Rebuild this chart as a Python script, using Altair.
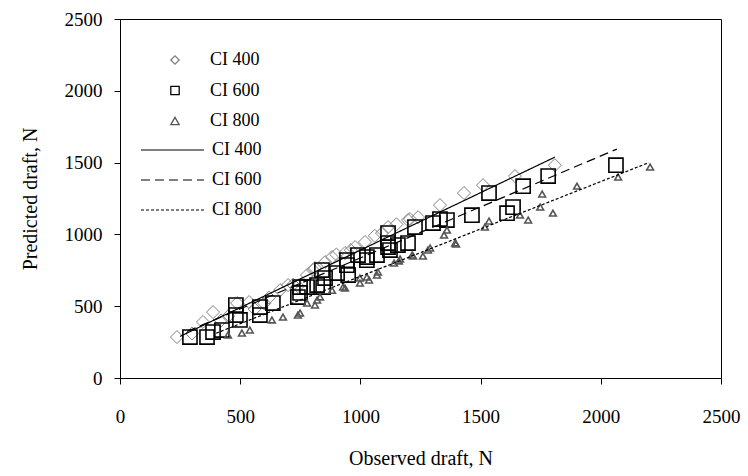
import altair as alt
import pandas as pd

# ---- data ----
obs_400 = [237, 300, 345, 387, 420, 450, 487, 537, 560, 600, 620, 666, 699, 720, 740, 778, 803,
           811, 853, 882, 900, 936, 960, 978, 1019, 1060, 1090, 1115, 1150, 1198, 1206, 1240,
           1331, 1431, 1510, 1643, 1809]
pred_400 = [285, 310, 390, 459, 400, 430, 522, 529, 480, 520, 560, 612, 647, 650, 640, 717, 752,
            766, 807, 842, 860, 870, 890, 912, 947, 990, 1009, 1051, 1070, 1100, 1107, 1120,
            1204, 1288, 1343, 1406, 1482]

obs_600 = [291, 362, 387, 424, 482, 482, 499, 582, 582, 636, 740, 749, 749, 778, 820, 840, 845,
           853, 903, 944, 944, 949, 990, 1027, 1027, 1069, 1115, 1115, 1115, 1123, 1156, 1198,
           1227, 1302, 1331, 1360, 1464, 1535, 1610, 1635, 1677, 1781, 2063]
pred_600 = [285, 285, 320, 334, 508, 438, 404, 494, 438, 522, 564, 633, 592, 633, 647, 752, 633,
            696, 731, 821, 786, 717, 856, 821, 842, 856, 1009, 940, 912, 891, 926, 940,
            1051, 1079, 1107, 1100, 1134, 1288, 1148, 1190, 1336, 1406, 1482]

obs_800 = [449, 507, 540, 632, 678, 740, 749, 778, 811, 820, 832, 882, 928, 936, 998, 998, 1027,
           1036, 1069, 1073, 1140, 1160, 1165, 1215, 1219, 1260, 1281, 1290, 1348, 1360, 1394,
           1398, 1518, 1535, 1664, 1698, 1748, 1756, 1801, 1901, 2072, 2205]
pred_800 = [299, 313, 334, 404, 424, 438, 452, 522, 508, 543, 564, 610, 633, 626, 661, 696, 703,
            682, 717, 738, 800, 815, 828, 856, 849, 849, 891, 905, 995, 1030, 940,
            933, 1051, 1093, 1134, 1100, 1190, 1281, 1148, 1336, 1399, 1469]

series_names = ["CI 400", "CI 600", "CI 800"]
fit_names = ["CI 400 (fit)", "CI 600 (fit)", "CI 800 (fit)"]

# fitted lines (start / end)
line_obs_400 = [250, 1809]
line_pred_400 = [290, 1538]
line_obs_600 = [280, 2067]
line_pred_600 = [325, 1594]
line_obs_800 = [400, 2200]
line_pred_800 = [312, 1500]

ticks = [0, 500, 1000, 1500, 2000, 2500]

points = pd.DataFrame({
    "Observed": obs_400 + obs_600 + obs_800,
    "Predicted": pred_400 + pred_600 + pred_800,
    "Series": [series_names[0]] * len(obs_400) + [series_names[1]] * len(obs_600)
              + [series_names[2]] * len(obs_800),
})
lines = pd.DataFrame({
    "Observed": line_obs_400 + line_obs_600 + line_obs_800,
    "Predicted": line_pred_400 + line_pred_600 + line_pred_800,
    "Fit": [fit_names[0]] * 2 + [fit_names[1]] * 2 + [fit_names[2]] * 2,
})

FONT = "Liberation Serif"

x_enc = alt.X("Observed:Q", scale=alt.Scale(domain=[0, 2500], nice=False),
              axis=alt.Axis(values=ticks, format="d", title="Observed draft, N",
                            labelPadding=23, titlePadding=22, labelFlush=False))
y_enc = alt.Y("Predicted:Q", scale=alt.Scale(domain=[0, 2500], nice=False),
              axis=alt.Axis(values=ticks, format="d", title="Predicted draft, N",
                            labelPadding=12, titlePadding=24, labelFlush=False))

pt_legend = alt.Legend(title=None, orient="none", legendX=46, legendY=32,
                       labelOffset=26, rowPadding=12.5, symbolSize=70,
                       symbolStrokeWidth=1.3, symbolFillColor="transparent")

shape_enc = alt.Shape("Series:N",
                      scale=alt.Scale(domain=series_names,
                                      range=["diamond", "square", "triangle-up"]),
                      legend=pt_legend)
stroke_enc = alt.Stroke("Series:N",
                        scale=alt.Scale(domain=series_names,
                                        range=["#808080", "#000000", "#555555"]),
                        legend=pt_legend)

marker_size = [170, 200, 45]
marker_width = [1.0, 1.6, 1.6]

point_layers = []
for name, sz, sw in zip(series_names, marker_size, marker_width):
    point_layers.append(
        alt.Chart(points).transform_filter(alt.datum.Series == name)
        .mark_point(filled=False, opacity=1, size=sz, strokeWidth=sw)
        .encode(x=x_enc, y=y_enc, shape=shape_enc, stroke=stroke_enc)
    )

lns = alt.Chart(lines).mark_line(color="#000000", strokeWidth=1.2).encode(
    x="Observed:Q",
    y="Predicted:Q",
    strokeDash=alt.StrokeDash("Fit:N",
                              scale=alt.Scale(domain=fit_names,
                                              range=[[1, 0], [9, 5], [3, 2]]),
                              legend=alt.Legend(title=None, orient="none", legendX=41.5,
                                                legendY=120, symbolType="M-3.15,0H3.15",
                                                symbolSize=400, labelOffset=28.5,
                                                rowPadding=10, symbolStrokeColor="#000000",
                                                symbolStrokeWidth=1.2,
                                                labelExpr="replace(datum.label, ' (fit)', '')")),
)

chart = alt.layer(*point_layers, lns).properties(
    width=601, height=359,
    autosize=alt.AutoSizeParams(type="none"),
    padding={"left": 120, "top": 19, "right": 27, "bottom": 98},
    background="white",
).configure_view(
    stroke="#000000", strokeWidth=1
).configure_axis(
    grid=False, domainColor="#000000", tickColor="#000000", tickSize=6,
    labelFont=FONT, labelFontSize=19, labelColor="#000000",
    titleFont=FONT, titleFontSize=20, titleColor="#000000", titleFontWeight="normal",
).configure_legend(
    labelFont=FONT, labelFontSize=18, labelColor="#000000", padding=0,
)

chart.save("out.html", embed_options={"renderer": "svg", "actions": False})
